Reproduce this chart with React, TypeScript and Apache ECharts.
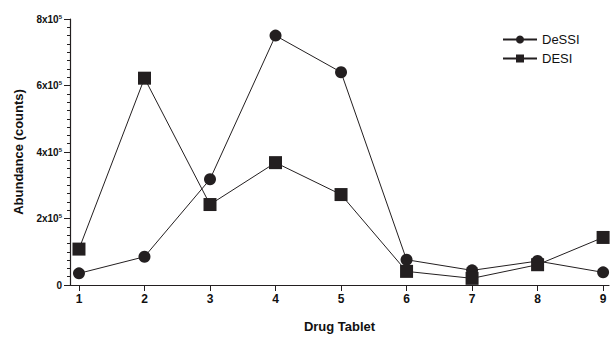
import React, { useEffect, useRef } from "react";
import * as echarts from "echarts";

const tablets = [1, 2, 3, 4, 5, 6, 7, 8, 9];
const dessiValues = [35000, 85000, 318000, 750000, 640000, 76000, 44000, 72000, 38000];
const desiValues = [108000, 622000, 242000, 368000, 272000, 41000, 20000, 61000, 143000];
const yTicks = [0, 200000, 400000, 600000, 800000];

export default function App() {
  const ref = useRef<HTMLDivElement>(null);
  useEffect(() => {
    if (!ref.current) return;
    const chart = echarts.init(ref.current, null, { renderer: "svg" });
    const font = "'Liberation Sans', Arial, sans-serif";
    const lineStyle = { color: "#231f20", width: 1 };
    chart.setOption({
      animation: false,
      backgroundColor: "#ffffff",
      grid: { left: 70, right: 1, top: 19, bottom: 44 },
      legend: {
        orient: "vertical",
        left: 497,
        top: 28,
        itemWidth: 34,
        itemHeight: 10,
        itemGap: 6,
        textStyle: { fontFamily: font, fontSize: 13, color: "#111" },
        data: ["DeSSI", "DESI"],
      },
      xAxis: {
        type: "value",
        min: 0.863,
        max: 9.09,
        name: "Drug Tablet",
        nameLocation: "middle",
        nameGap: 35,
        nameTextStyle: { fontFamily: font, fontSize: 13, fontWeight: "bold", color: "#111" },
        axisLine: { show: true, lineStyle: { color: "#231f20", width: 1.2 } },
        axisTick: { show: true, length: 6, customValues: tablets, lineStyle: { color: "#231f20" } },
        axisLabel: {
          customValues: tablets,
          margin: 8,
          fontFamily: font,
          fontSize: 12,
          fontWeight: "bold",
          color: "#111",
        },
        splitLine: { show: false },
      },
      yAxis: {
        type: "value",
        min: 0,
        max: 800000,
        interval: 200000,
        name: "Abundance (counts)",
        nameLocation: "middle",
        nameGap: 45,
        nameTextStyle: { fontFamily: font, fontSize: 13, fontWeight: "bold", color: "#111" },
        axisLine: { show: true, lineStyle: { color: "#231f20", width: 1.2 } },
        axisTick: { show: true, length: 6, lineStyle: { color: "#231f20" } },
        minorTick: { show: true, splitNumber: 8, length: 3, lineStyle: { color: "#231f20" } },
        axisLabel: {
          margin: 8,
          fontFamily: font,
          fontSize: 10,
          fontWeight: "bold",
          color: "#111",
          formatter: (v: number) => {
            if (v === 0) return "{b|0}";
            const i = yTicks.indexOf(v);
            return i >= 0 ? `{b|${v / 100000}x10}{s|5}` : "";
          },
          rich: {
            b: { fontFamily: font, fontSize: 10, fontWeight: "bold", color: "#111" },
            s: { fontFamily: font, fontSize: 6, fontWeight: "bold", color: "#111", verticalAlign: "top", padding: [0, 0, 5, 0] },
          },
        },
        splitLine: { show: false },
      },
      series: [
        {
          name: "DeSSI",
          type: "line",
          data: tablets.map((t, i) => [t, dessiValues[i]]),
          symbol: "circle",
          symbolSize: 12,
          itemStyle: { color: "#231f20" },
          lineStyle,
        },
        {
          name: "DESI",
          type: "line",
          data: tablets.map((t, i) => [t, desiValues[i]]),
          symbol: "rect",
          symbolSize: 13,
          itemStyle: { color: "#231f20" },
          lineStyle,
        },
      ],
    });
    return () => chart.dispose();
  }, []);
  return <div ref={ref} style={{ width: 610, height: 338, position: "absolute", left: 0, top: 0 }} />;
}
